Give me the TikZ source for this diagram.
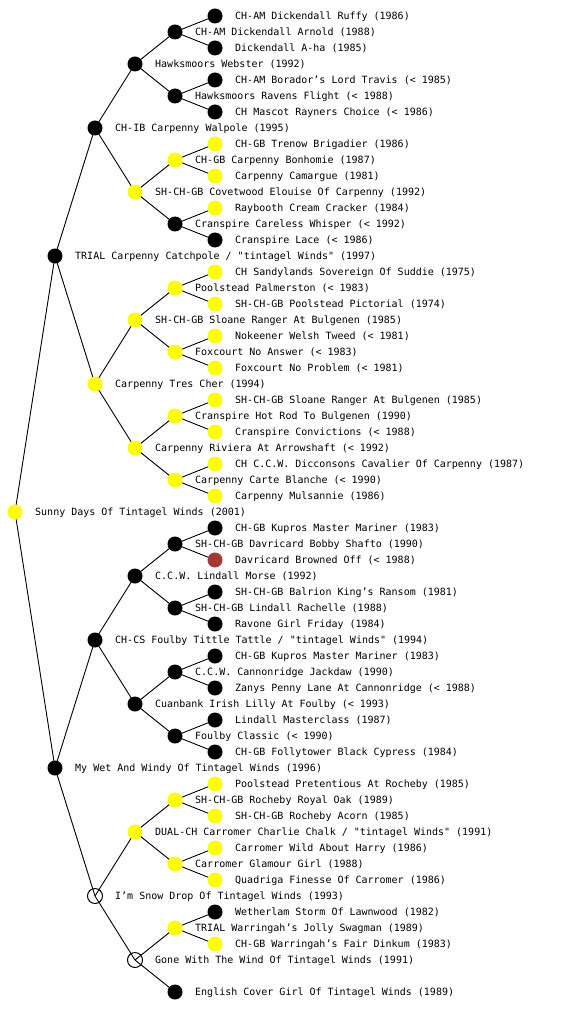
\documentclass[tikz,border=0pt]{standalone}
\usepackage{fontspec}
\setmonofont{DejaVu Sans Mono}
\usetikzlibrary{backgrounds}
\definecolor{dogyel}{RGB}{255,255,0}
\definecolor{dogred}{RGB}{165,55,55}
\tikzset{
  dot/.style={circle,inner sep=0pt,minimum size=15pt},
  Y/.style={dot,fill=dogyel},
  K/.style={dot,fill=black},
  R/.style={dot,fill=dogred},
  W/.style={dot,draw=black,line width=1pt},
  lbl/.style={anchor=base west,inner sep=0pt,font=\ttfamily\fontsize{10pt}{12pt}\selectfont},
  link/.style={draw=black,line width=0.9pt}
}
\newcommand\pn[5]{%
  \node[#1] (#2) at (#3,#4) {};
  \node[lbl] (#2l) at ({#3+20},{#4+3.6}) {#5};}
\newcommand\lk[3]{\draw[link] (#1.center) -- (#2.center) (#1.center) -- (#3.center);}
\begin{document}
\begin{tikzpicture}[x=1pt,y=-1pt]
\useasboundingbox (0,0) rectangle (560,1024);
% generation 0
\pn{Y}{a}{15}{512}{Sunny Days Of Tintagel Winds (2001)}
% generation 1
\pn{K}{b0}{55}{256}{TRIAL Carpenny Catchpole / "tintagel Winds" (1997)}
\pn{K}{b1}{55}{768}{My Wet And Windy Of Tintagel Winds (1996)}
% generation 2
\pn{K}{c0}{95}{128}{CH-IB Carpenny Walpole (1995)}
\pn{Y}{c1}{95}{384}{Carpenny Tres Cher (1994)}
\pn{K}{c2}{95}{640}{CH-CS Foulby Tittle Tattle / "tintagel Winds" (1994)}
\pn{W}{c3}{95}{896}{I’m Snow Drop Of Tintagel Winds (1993)}
% generation 3
\pn{K}{d0}{135}{64}{Hawksmoors Webster (1992)}
\pn{Y}{d1}{135}{192}{SH-CH-GB Covetwood Elouise Of Carpenny (1992)}
\pn{Y}{d2}{135}{320}{SH-CH-GB Sloane Ranger At Bulgenen (1985)}
\pn{Y}{d3}{135}{448}{Carpenny Riviera At Arrowshaft (< 1992)}
\pn{K}{d4}{135}{576}{C.C.W. Lindall Morse (1992)}
\pn{K}{d5}{135}{704}{Cuanbank Irish Lilly At Foulby (< 1993)}
\pn{Y}{d6}{135}{832}{DUAL-CH Carromer Charlie Chalk / "tintagel Winds" (1991)}
\pn{W}{d7}{135}{960}{Gone With The Wind Of Tintagel Winds (1991)}
% generation 4
\pn{K}{e0}{175}{32}{CH-AM Dickendall Arnold (1988)}
\pn{K}{e1}{175}{96}{Hawksmoors Ravens Flight (< 1988)}
\pn{Y}{e2}{175}{160}{CH-GB Carpenny Bonhomie (1987)}
\pn{K}{e3}{175}{224}{Cranspire Careless Whisper (< 1992)}
\pn{Y}{e4}{175}{288}{Poolstead Palmerston (< 1983)}
\pn{Y}{e5}{175}{352}{Foxcourt No Answer (< 1983)}
\pn{Y}{e6}{175}{416}{Cranspire Hot Rod To Bulgenen (1990)}
\pn{Y}{e7}{175}{480}{Carpenny Carte Blanche (< 1990)}
\pn{K}{e8}{175}{544}{SH-CH-GB Davricard Bobby Shafto (1990)}
\pn{K}{e9}{175}{608}{SH-CH-GB Lindall Rachelle (1988)}
\pn{K}{e10}{175}{672}{C.C.W. Cannonridge Jackdaw (1990)}
\pn{K}{e11}{175}{736}{Foulby Classic (< 1990)}
\pn{Y}{e12}{175}{800}{SH-CH-GB Rocheby Royal Oak (1989)}
\pn{Y}{e13}{175}{864}{Carromer Glamour Girl (1988)}
\pn{Y}{e14}{175}{928}{TRIAL Warringah’s Jolly Swagman (1989)}
\pn{K}{e15}{175}{992}{English Cover Girl Of Tintagel Winds (1989)}
% generation 5
\pn{K}{f0}{215}{16}{CH-AM Dickendall Ruffy (1986)}
\pn{K}{f1}{215}{48}{Dickendall A-ha (1985)}
\pn{K}{f2}{215}{80}{CH-AM Borador’s Lord Travis (< 1985)}
\pn{K}{f3}{215}{112}{CH Mascot Rayners Choice (< 1986)}
\pn{Y}{f4}{215}{144}{CH-GB Trenow Brigadier (1986)}
\pn{Y}{f5}{215}{176}{Carpenny Camargue (1981)}
\pn{Y}{f6}{215}{208}{Raybooth Cream Cracker (1984)}
\pn{K}{f7}{215}{240}{Cranspire Lace (< 1986)}
\pn{Y}{f8}{215}{272}{CH Sandylands Sovereign Of Suddie (1975)}
\pn{Y}{f9}{215}{304}{SH-CH-GB Poolstead Pictorial (1974)}
\pn{Y}{f10}{215}{336}{Nokeener Welsh Tweed (< 1981)}
\pn{Y}{f11}{215}{368}{Foxcourt No Problem (< 1981)}
\pn{Y}{f12}{215}{400}{SH-CH-GB Sloane Ranger At Bulgenen (1985)}
\pn{Y}{f13}{215}{432}{Cranspire Convictions (< 1988)}
\pn{Y}{f14}{215}{464}{CH C.C.W. Dicconsons Cavalier Of Carpenny (1987)}
\pn{Y}{f15}{215}{496}{Carpenny Mulsannie (1986)}
\pn{K}{f16}{215}{528}{CH-GB Kupros Master Mariner (1983)}
\pn{R}{f17}{215}{560}{Davricard Browned Off (< 1988)}
\pn{K}{f18}{215}{592}{SH-CH-GB Balrion King’s Ransom (1981)}
\pn{K}{f19}{215}{624}{Ravone Girl Friday (1984)}
\pn{K}{f20}{215}{656}{CH-GB Kupros Master Mariner (1983)}
\pn{K}{f21}{215}{688}{Zanys Penny Lane At Cannonridge (< 1988)}
\pn{K}{f22}{215}{720}{Lindall Masterclass (1987)}
\pn{K}{f23}{215}{752}{CH-GB Follytower Black Cypress (1984)}
\pn{Y}{f24}{215}{784}{Poolstead Pretentious At Rocheby (1985)}
\pn{Y}{f25}{215}{816}{SH-CH-GB Rocheby Acorn (1985)}
\pn{Y}{f26}{215}{848}{Carromer Wild About Harry (1986)}
\pn{Y}{f27}{215}{880}{Quadriga Finesse Of Carromer (1986)}
\pn{K}{f28}{215}{912}{Wetherlam Storm Of Lawnwood (1982)}
\pn{Y}{f29}{215}{944}{CH-GB Warringah’s Fair Dinkum (1983)}
\begin{scope}[on background layer]
\lk{a}{b0}{b1}
\lk{b0}{c0}{c1}
\lk{b1}{c2}{c3}
\lk{c0}{d0}{d1}
\lk{c1}{d2}{d3}
\lk{c2}{d4}{d5}
\lk{c3}{d6}{d7}
\lk{d0}{e0}{e1}
\lk{d1}{e2}{e3}
\lk{d2}{e4}{e5}
\lk{d3}{e6}{e7}
\lk{d4}{e8}{e9}
\lk{d5}{e10}{e11}
\lk{d6}{e12}{e13}
\lk{d7}{e14}{e15}
\lk{e0}{f0}{f1}
\lk{e1}{f2}{f3}
\lk{e2}{f4}{f5}
\lk{e3}{f6}{f7}
\lk{e4}{f8}{f9}
\lk{e5}{f10}{f11}
\lk{e6}{f12}{f13}
\lk{e7}{f14}{f15}
\lk{e8}{f16}{f17}
\lk{e9}{f18}{f19}
\lk{e10}{f20}{f21}
\lk{e11}{f22}{f23}
\lk{e12}{f24}{f25}
\lk{e13}{f26}{f27}
\lk{e14}{f28}{f29}
\end{scope}
\end{tikzpicture}
\end{document}
